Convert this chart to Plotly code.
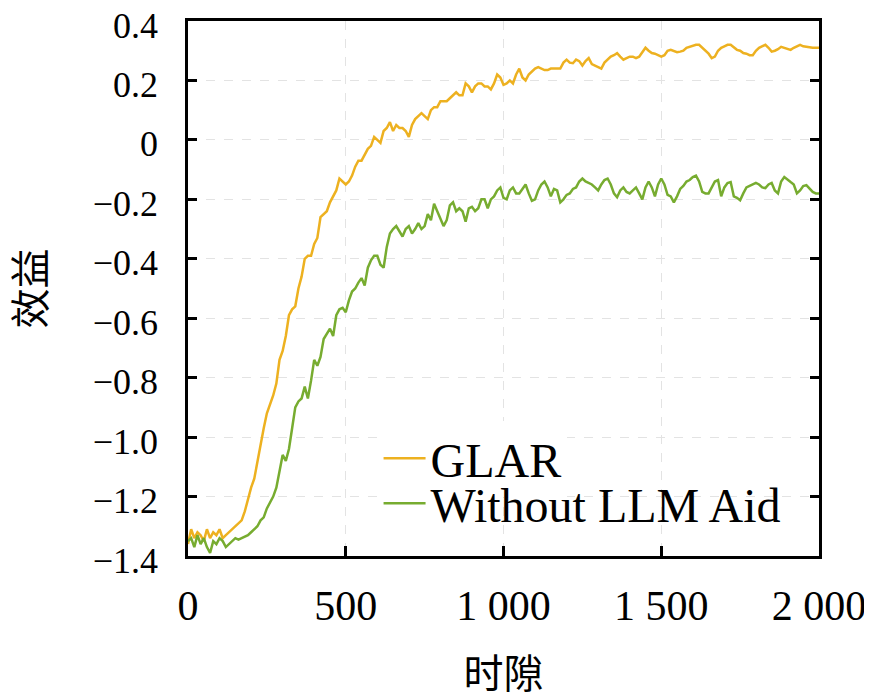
import plotly.graph_objs as go

# time slots, every 10 steps
timeslots = list(range(0, 2001, 10))

# GLAR utility
glar = [-1.36, -1.31, -1.34, -1.32, -1.33, -1.35, -1.31, -1.34, -1.32, -1.33,
        -1.31, -1.34, -1.33, -1.32, -1.31, -1.30, -1.29, -1.28, -1.25, -1.21,
        -1.17, -1.14, -1.08, -1.02, -0.97, -0.92, -0.89, -0.86, -0.82, -0.74,
        -0.71, -0.66, -0.59, -0.57, -0.56, -0.50, -0.46, -0.40, -0.39, -0.39,
        -0.35, -0.33, -0.26, -0.25, -0.24, -0.21, -0.19, -0.17, -0.13, -0.14,
        -0.15, -0.14, -0.12, -0.09, -0.07, -0.07, -0.05, -0.03, -0.02, 0.01,
        0.00, -0.01, 0.03, 0.04, 0.06, 0.03, 0.05, 0.04, 0.04, 0.03,
        0.01, 0.05, 0.07, 0.08, 0.09, 0.08, 0.07, 0.10, 0.11, 0.11,
        0.13, 0.13, 0.13, 0.14, 0.15, 0.16, 0.15, 0.15, 0.19, 0.18,
        0.16, 0.18, 0.19, 0.19, 0.18, 0.18, 0.17, 0.19, 0.22, 0.21,
        0.185, 0.19, 0.20, 0.19, 0.22, 0.24, 0.21, 0.20, 0.22, 0.23,
        0.24, 0.245, 0.24, 0.235, 0.235, 0.24, 0.24, 0.24, 0.24, 0.26,
        0.27, 0.26, 0.258, 0.27, 0.265, 0.25, 0.265, 0.275, 0.255, 0.25,
        0.245, 0.24, 0.26, 0.27, 0.28, 0.285, 0.292, 0.28, 0.27, 0.275,
        0.28, 0.28, 0.275, 0.28, 0.295, 0.31, 0.30, 0.292, 0.29, 0.285,
        0.28, 0.285, 0.30, 0.303, 0.30, 0.295, 0.297, 0.30, 0.31, 0.313,
        0.315, 0.32, 0.32, 0.31, 0.30, 0.29, 0.275, 0.28, 0.30, 0.31,
        0.315, 0.32, 0.32, 0.31, 0.303, 0.30, 0.292, 0.29, 0.285, 0.285,
        0.30, 0.31, 0.315, 0.32, 0.31, 0.297, 0.30, 0.305, 0.313, 0.31,
        0.305, 0.303, 0.31, 0.315, 0.32, 0.315, 0.313, 0.31, 0.31, 0.31,
        0.31]

# without LLM aid
no_llm = [-1.35, -1.34, -1.37, -1.33, -1.36, -1.34, -1.37, -1.39, -1.35, -1.36,
          -1.34, -1.35, -1.37, -1.36, -1.35, -1.34, -1.345, -1.34, -1.335, -1.33,
          -1.32, -1.31, -1.30, -1.28, -1.27, -1.24, -1.22, -1.20, -1.17, -1.11,
          -1.06, -1.08, -1.04, -0.97, -0.90, -0.88, -0.87, -0.83, -0.87, -0.81,
          -0.74, -0.76, -0.73, -0.67, -0.65, -0.635, -0.66, -0.59, -0.57, -0.565,
          -0.58, -0.54, -0.51, -0.50, -0.48, -0.465, -0.49, -0.43, -0.405, -0.39,
          -0.39, -0.42, -0.43, -0.36, -0.315, -0.30, -0.29, -0.31, -0.325, -0.30,
          -0.29, -0.315, -0.30, -0.28, -0.30, -0.29, -0.25, -0.27, -0.215, -0.24,
          -0.265, -0.29, -0.27, -0.22, -0.21, -0.24, -0.23, -0.24, -0.275, -0.23,
          -0.225, -0.24, -0.23, -0.20, -0.20, -0.23, -0.20, -0.19, -0.17, -0.16,
          -0.195, -0.20, -0.17, -0.16, -0.18, -0.18, -0.165, -0.15, -0.18, -0.205,
          -0.20, -0.17, -0.15, -0.14, -0.16, -0.19, -0.165, -0.17, -0.21, -0.20,
          -0.185, -0.18, -0.165, -0.16, -0.14, -0.13, -0.14, -0.145, -0.15, -0.16,
          -0.17, -0.15, -0.135, -0.13, -0.15, -0.18, -0.193, -0.17, -0.16, -0.175,
          -0.18, -0.17, -0.16, -0.18, -0.20, -0.16, -0.14, -0.16, -0.19, -0.15,
          -0.13, -0.15, -0.185, -0.19, -0.21, -0.19, -0.165, -0.155, -0.14, -0.135,
          -0.125, -0.12, -0.14, -0.175, -0.18, -0.18, -0.16, -0.14, -0.135, -0.19,
          -0.16, -0.145, -0.142, -0.19, -0.195, -0.203, -0.18, -0.16, -0.155, -0.15,
          -0.145, -0.15, -0.16, -0.162, -0.15, -0.145, -0.17, -0.18, -0.14, -0.125,
          -0.135, -0.142, -0.15, -0.18, -0.17, -0.155, -0.152, -0.165, -0.175, -0.18,
          -0.18]

x_ticks = [0, 500, 1000, 1500, 2000]
x_labels = ["0", "500", "1 000", "1 500", "2 000"]
y_ticks = [0.4, 0.2, 0, -0.2, -0.4, -0.6, -0.8, -1.0, -1.2, -1.4]
y_labels = ["0.4", "0.2", "0", "\u22120.2", "\u22120.4", "\u22120.6",
            "\u22120.8", "\u22121.0", "\u22121.2", "\u22121.4"]

serif = "Liberation Serif"
cjk = "Noto Sans CJK SC"

data = [
    go.Scatter(x=timeslots, y=glar, mode="lines", name="GLAR",
               line=dict(color="#EDB120", width=2.5), legend="legend"),
    go.Scatter(x=timeslots, y=no_llm, mode="lines", name="Without LLM Aid",
               line=dict(color="#77AC30", width=2.5), legend="legend2"),
]

# the page body has an 8px offset, so the figure is a bit smaller than the window
legend_font = dict(family=serif, size=48)
layout = go.Layout(
    width=864, height=692,
    margin=dict(l=180, r=53, t=13, b=144),
    paper_bgcolor="white", plot_bgcolor="white",
    font=dict(family=serif, color="black"),
    showlegend=True,
    xaxis=dict(
        range=[0, 2000], tickvals=x_ticks, ticktext=x_labels,
        tickfont=dict(family=serif, size=42), ticklabelstandoff=11,
        ticklabeloverflow="allow",
        ticks="inside", ticklen=10, tickwidth=2.5, tickcolor="black",
        showline=True, linecolor="black", linewidth=2.5, mirror=True,
        showgrid=True, gridcolor="#e3e3e3", gridwidth=1, griddash="dash",
        zeroline=False, automargin=False,
        title=dict(text="时隙", font=dict(family=cjk, size=40), standoff=32),
    ),
    yaxis=dict(
        range=[-1.4, 0.4], tickvals=y_ticks, ticktext=y_labels,
        tickfont=dict(family=serif, size=36), ticklabelstandoff=20,
        ticklabelshift=4, ticklabeloverflow="allow",
        ticks="inside", ticklen=9, tickwidth=2.5, tickcolor="black",
        showline=True, linecolor="black", linewidth=2.5, mirror="ticks",
        showgrid=True, gridcolor="#e3e3e3", gridwidth=1, griddash="dash",
        zeroline=False, automargin=False,
    ),
    # y title as an annotation so it can sit closer to the page edge
    annotations=[dict(text="效益", xref="paper", yref="paper", x=-0.255, y=0.5,
                      xanchor="center", yanchor="middle", textangle=-90,
                      showarrow=False, font=dict(family=cjk, size=40))],
    legend=dict(
        x=0.302, y=0.182, xanchor="left", yanchor="middle",
        bgcolor="white", borderwidth=0, font=legend_font, itemwidth=42,
        visible=True,
    ),
    legend2=dict(
        x=0.302, y=0.098, xanchor="left", yanchor="middle",
        bgcolor="rgba(0,0,0,0)", borderwidth=0, font=legend_font, itemwidth=42,
        visible=True,
    ),
)

fig = go.Figure(data=data, layout=layout)
fig.write_html("out.html")
